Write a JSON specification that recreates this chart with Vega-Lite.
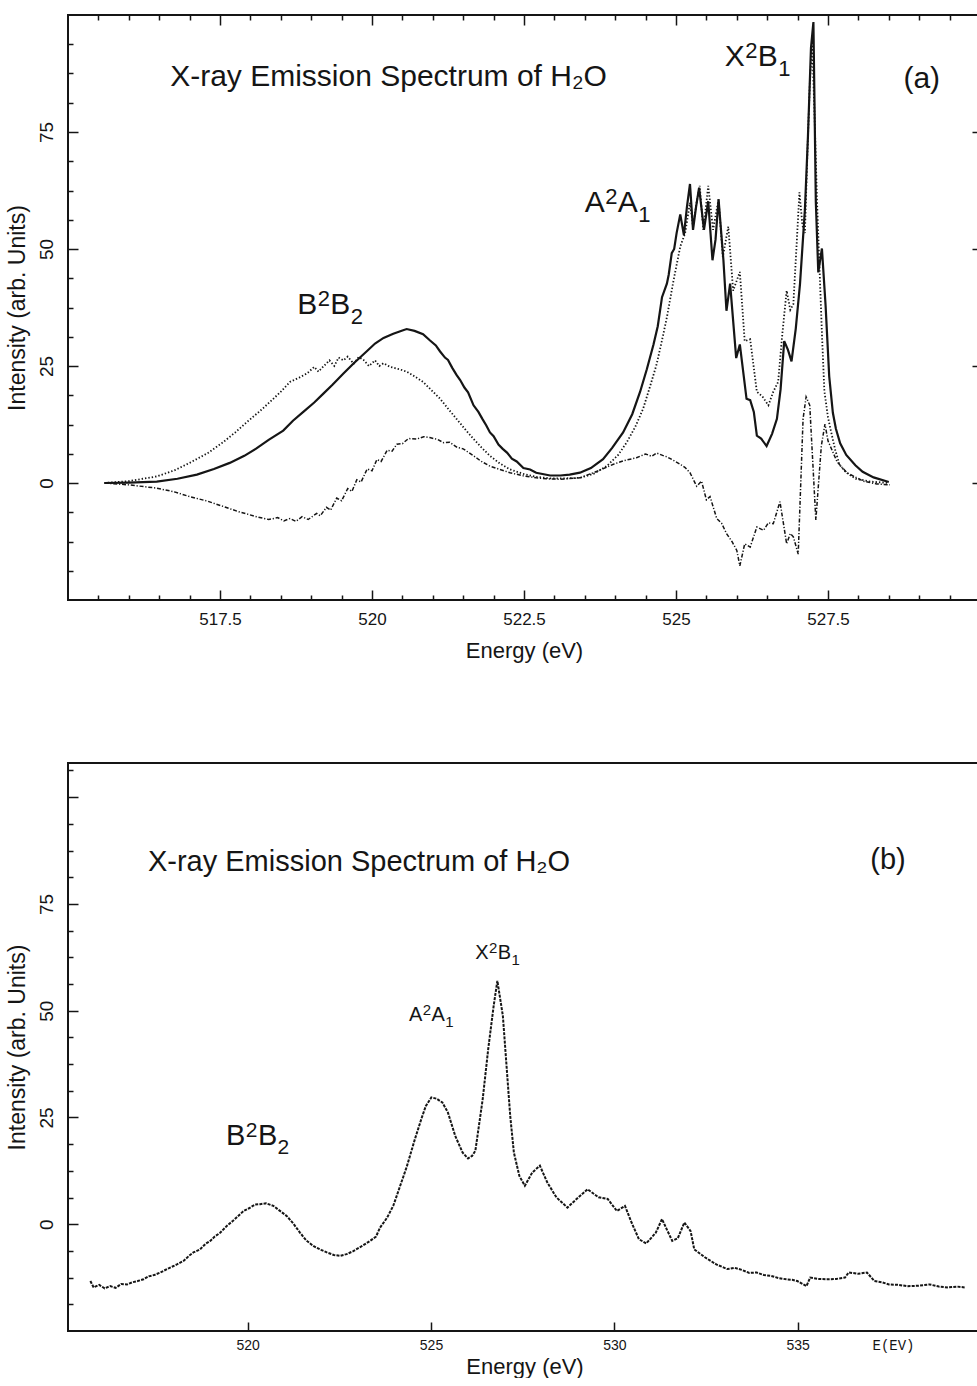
{
  "$schema": "https://vega.github.io/schema/vega-lite/v6.json",
  "background": "white",
  "padding": {"left": 4, "top": 13, "right": 0, "bottom": 0},
  "spacing": 100,
  "config": {
    "view": {"stroke": "#151515", "strokeWidth": 2},
    "axis": {"grid": false, "domain": false, "tickColor": "#151515", "tickWidth": 1.5, "labelColor": "#151515", "titleColor": "#151515", "titleFontWeight": "normal", "labelOverlap": false, "labelFlush": false},
    "line": {"clip": false},
    "text": {"color": "#151515", "font": "Liberation Sans, Arial, sans-serif", "align": "left", "baseline": "alphabetic"}
  },
  "datasets": {
    "a": [
      {"c":"solid","E":515.6,"I":0},{"c":"solid","E":516.0,"I":0.1},{"c":"solid","E":516.46,"I":0.3},{"c":"solid","E":516.8,"I":0.9},{"c":"solid","E":517.12,"I":1.8},{"c":"solid","E":517.4,"I":3.0},{"c":"solid","E":517.66,"I":4.3},{"c":"solid","E":517.9,"I":5.8},{"c":"solid","E":518.1,"I":7.4},{"c":"solid","E":518.3,"I":9.2},{"c":"solid","E":518.54,"I":11.2},{"c":"solid","E":518.7,"I":13.3},{"c":"solid","E":518.87,"I":15.2},{"c":"solid","E":519.05,"I":17.2},{"c":"solid","E":519.2,"I":19.1},{"c":"solid","E":519.35,"I":21.0},{"c":"solid","E":519.53,"I":23.4},{"c":"solid","E":519.7,"I":25.6},{"c":"solid","E":519.91,"I":28.1},{"c":"solid","E":520.05,"I":29.8},{"c":"solid","E":520.19,"I":31.0},{"c":"solid","E":520.35,"I":31.9},{"c":"solid","E":520.5,"I":32.6},{"c":"solid","E":520.57,"I":32.9},{"c":"solid","E":520.7,"I":32.5},{"c":"solid","E":520.84,"I":31.8},{"c":"solid","E":520.95,"I":30.5},{"c":"solid","E":521.05,"I":29.4},{"c":"solid","E":521.12,"I":28.1},{"c":"solid","E":521.2,"I":26.8},{"c":"solid","E":521.25,"I":26.3},{"c":"solid","E":521.32,"I":24.6},{"c":"solid","E":521.39,"I":23.1},{"c":"solid","E":521.45,"I":22.0},{"c":"solid","E":521.52,"I":20.4},{"c":"solid","E":521.58,"I":19.4},{"c":"solid","E":521.67,"I":16.6},{"c":"solid","E":521.75,"I":15.2},{"c":"solid","E":521.82,"I":13.6},{"c":"solid","E":521.88,"I":12.3},{"c":"solid","E":521.94,"I":10.8},{"c":"solid","E":522.0,"I":10.0},{"c":"solid","E":522.08,"I":8.2},{"c":"solid","E":522.15,"I":7.3},{"c":"solid","E":522.22,"I":6.5},{"c":"solid","E":522.3,"I":5.2},{"c":"solid","E":522.38,"I":4.6},{"c":"solid","E":522.49,"I":3.2},{"c":"solid","E":522.6,"I":2.9},{"c":"solid","E":522.7,"I":2.2},{"c":"solid","E":522.93,"I":1.6},{"c":"solid","E":523.1,"I":1.6},{"c":"solid","E":523.25,"I":1.8},{"c":"solid","E":523.42,"I":2.2},{"c":"solid","E":523.6,"I":3.2},{"c":"solid","E":523.8,"I":5.1},{"c":"solid","E":523.95,"I":7.5},{"c":"solid","E":524.13,"I":10.8},{"c":"solid","E":524.28,"I":14.7},{"c":"solid","E":524.41,"I":19.5},{"c":"solid","E":524.52,"I":24.3},{"c":"solid","E":524.63,"I":29.6},{"c":"solid","E":524.7,"I":33.5},{"c":"solid","E":524.77,"I":39.7},{"c":"solid","E":524.85,"I":42.6},{"c":"solid","E":524.88,"I":44.5},{"c":"solid","E":524.93,"I":49.1},{"c":"solid","E":524.97,"I":50.0},{"c":"solid","E":525.01,"I":53.4},{"c":"solid","E":525.07,"I":57.4},{"c":"solid","E":525.13,"I":53.0},{"c":"solid","E":525.18,"I":59.0},{"c":"solid","E":525.23,"I":63.9},{"c":"solid","E":525.28,"I":54.1},{"c":"solid","E":525.33,"I":59.0},{"c":"solid","E":525.38,"I":63.1},{"c":"solid","E":525.46,"I":54.1},{"c":"solid","E":525.53,"I":60.2},{"c":"solid","E":525.6,"I":47.6},{"c":"solid","E":525.65,"I":52.0},{"c":"solid","E":525.7,"I":60.6},{"c":"solid","E":525.78,"I":47.6},{"c":"solid","E":525.83,"I":36.8},{"c":"solid","E":525.89,"I":42.6},{"c":"solid","E":525.99,"I":26.7},{"c":"solid","E":526.05,"I":29.6},{"c":"solid","E":526.16,"I":18.0},{"c":"solid","E":526.22,"I":17.7},{"c":"solid","E":526.28,"I":15.2},{"c":"solid","E":526.33,"I":10.1},{"c":"solid","E":526.4,"I":9.5},{"c":"solid","E":526.49,"I":7.9},{"c":"solid","E":526.58,"I":10.5},{"c":"solid","E":526.66,"I":13.7},{"c":"solid","E":526.72,"I":20.0},{"c":"solid","E":526.78,"I":30.3},{"c":"solid","E":526.84,"I":28.5},{"c":"solid","E":526.9,"I":26.0},{"c":"solid","E":526.97,"I":33.0},{"c":"solid","E":527.04,"I":42.6},{"c":"solid","E":527.12,"I":58.4},{"c":"solid","E":527.17,"I":74.0},{"c":"solid","E":527.22,"I":93.0},{"c":"solid","E":527.26,"I":98.5},{"c":"solid","E":527.3,"I":60.0},{"c":"solid","E":527.34,"I":45.0},{"c":"solid","E":527.4,"I":50.1},{"c":"solid","E":527.46,"I":38.0},{"c":"solid","E":527.52,"I":22.8},{"c":"solid","E":527.58,"I":15.0},{"c":"solid","E":527.63,"I":11.6},{"c":"solid","E":527.7,"I":8.5},{"c":"solid","E":527.8,"I":6.0},{"c":"solid","E":527.95,"I":3.8},{"c":"solid","E":528.07,"I":2.4},{"c":"solid","E":528.25,"I":1.2},{"c":"solid","E":528.5,"I":0.2},
      {"c":"dot","E":515.6,"I":0},{"c":"dot","E":516.0,"I":0.4},{"c":"dot","E":516.46,"I":1.4},{"c":"dot","E":516.75,"I":2.7},{"c":"dot","E":517.0,"I":4.3},{"c":"dot","E":517.3,"I":6.4},{"c":"dot","E":517.55,"I":8.7},{"c":"dot","E":517.75,"I":10.8},{"c":"dot","E":517.94,"I":13.0},{"c":"dot","E":518.15,"I":15.3},{"c":"dot","E":518.32,"I":17.3},{"c":"dot","E":518.5,"I":19.5},{"c":"dot","E":518.65,"I":21.6},{"c":"dot","E":518.8,"I":22.5},{"c":"dot","E":518.93,"I":23.4},{"c":"dot","E":519.05,"I":24.8},{"c":"dot","E":519.12,"I":23.8},{"c":"dot","E":519.2,"I":24.9},{"c":"dot","E":519.3,"I":26.2},{"c":"dot","E":519.38,"I":25.0},{"c":"dot","E":519.45,"I":26.8},{"c":"dot","E":519.53,"I":26.2},{"c":"dot","E":519.6,"I":27.0},{"c":"dot","E":519.7,"I":25.5},{"c":"dot","E":519.78,"I":26.9},{"c":"dot","E":519.86,"I":26.3},{"c":"dot","E":519.95,"I":25.0},{"c":"dot","E":520.05,"I":26.2},{"c":"dot","E":520.12,"I":25.0},{"c":"dot","E":520.19,"I":25.6},{"c":"dot","E":520.3,"I":24.8},{"c":"dot","E":520.45,"I":24.3},{"c":"dot","E":520.57,"I":23.8},{"c":"dot","E":520.7,"I":22.8},{"c":"dot","E":520.84,"I":21.6},{"c":"dot","E":520.98,"I":19.8},{"c":"dot","E":521.12,"I":18.0},{"c":"dot","E":521.25,"I":15.9},{"c":"dot","E":521.39,"I":13.7},{"c":"dot","E":521.53,"I":11.5},{"c":"dot","E":521.67,"I":9.4},{"c":"dot","E":521.8,"I":7.6},{"c":"dot","E":521.94,"I":5.8},{"c":"dot","E":522.1,"I":4.2},{"c":"dot","E":522.27,"I":2.9},{"c":"dot","E":522.5,"I":1.9},{"c":"dot","E":522.7,"I":1.3},{"c":"dot","E":522.93,"I":1.0},{"c":"dot","E":523.2,"I":1.0},{"c":"dot","E":523.42,"I":1.1},{"c":"dot","E":523.65,"I":2.0},{"c":"dot","E":523.86,"I":3.6},{"c":"dot","E":524.05,"I":6.0},{"c":"dot","E":524.19,"I":8.7},{"c":"dot","E":524.33,"I":12.0},{"c":"dot","E":524.46,"I":15.9},{"c":"dot","E":524.57,"I":20.5},{"c":"dot","E":524.68,"I":25.3},{"c":"dot","E":524.77,"I":30.5},{"c":"dot","E":524.85,"I":35.4},{"c":"dot","E":524.96,"I":43.3},{"c":"dot","E":525.07,"I":50.5},{"c":"dot","E":525.15,"I":53.4},{"c":"dot","E":525.23,"I":59.9},{"c":"dot","E":525.28,"I":54.8},{"c":"dot","E":525.34,"I":60.0},{"c":"dot","E":525.39,"I":63.5},{"c":"dot","E":525.45,"I":54.1},{"c":"dot","E":525.53,"I":63.5},{"c":"dot","E":525.61,"I":54.1},{"c":"dot","E":525.7,"I":60.6},{"c":"dot","E":525.77,"I":48.3},{"c":"dot","E":525.86,"I":54.8},{"c":"dot","E":525.94,"I":41.1},{"c":"dot","E":526.05,"I":45.1},{"c":"dot","E":526.13,"I":30.3},{"c":"dot","E":526.22,"I":30.7},{"c":"dot","E":526.33,"I":19.5},{"c":"dot","E":526.42,"I":18.5},{"c":"dot","E":526.52,"I":16.6},{"c":"dot","E":526.6,"I":19.5},{"c":"dot","E":526.68,"I":21.6},{"c":"dot","E":526.75,"I":32.0},{"c":"dot","E":526.82,"I":41.1},{"c":"dot","E":526.88,"I":37.0},{"c":"dot","E":526.93,"I":38.2},{"c":"dot","E":526.98,"I":50.0},{"c":"dot","E":527.03,"I":62.1},{"c":"dot","E":527.08,"I":55.0},{"c":"dot","E":527.12,"I":53.4},{"c":"dot","E":527.16,"I":70.0},{"c":"dot","E":527.2,"I":85.0},{"c":"dot","E":527.24,"I":94.0},{"c":"dot","E":527.28,"I":78.0},{"c":"dot","E":527.32,"I":60.0},{"c":"dot","E":527.36,"I":46.0},{"c":"dot","E":527.4,"I":32.0},{"c":"dot","E":527.44,"I":19.7},{"c":"dot","E":527.5,"I":14.0},{"c":"dot","E":527.55,"I":11.0},{"c":"dot","E":527.62,"I":7.0},{"c":"dot","E":527.69,"I":3.9},{"c":"dot","E":527.8,"I":2.2},{"c":"dot","E":527.96,"I":0.9},{"c":"dot","E":528.2,"I":0.3},{"c":"dot","E":528.5,"I":0},
      {"c":"dd","E":515.6,"I":0},{"c":"dd","E":516.0,"I":-0.4},{"c":"dd","E":516.46,"I":-1.1},{"c":"dd","E":516.75,"I":-1.9},{"c":"dd","E":517.0,"I":-2.9},{"c":"dd","E":517.3,"I":-3.9},{"c":"dd","E":517.55,"I":-5.0},{"c":"dd","E":517.8,"I":-6.1},{"c":"dd","E":518.1,"I":-7.2},{"c":"dd","E":518.3,"I":-7.8},{"c":"dd","E":518.45,"I":-7.4},{"c":"dd","E":518.55,"I":-8.1},{"c":"dd","E":518.65,"I":-7.6},{"c":"dd","E":518.75,"I":-8.2},{"c":"dd","E":518.85,"I":-7.2},{"c":"dd","E":518.95,"I":-7.8},{"c":"dd","E":519.09,"I":-6.5},{"c":"dd","E":519.15,"I":-7.0},{"c":"dd","E":519.25,"I":-5.2},{"c":"dd","E":519.32,"I":-5.8},{"c":"dd","E":519.42,"I":-3.2},{"c":"dd","E":519.5,"I":-3.8},{"c":"dd","E":519.6,"I":-1.2},{"c":"dd","E":519.67,"I":-1.8},{"c":"dd","E":519.75,"I":0.7},{"c":"dd","E":519.82,"I":0.2},{"c":"dd","E":519.92,"I":3.0},{"c":"dd","E":520.0,"I":2.6},{"c":"dd","E":520.08,"I":5.0},{"c":"dd","E":520.15,"I":4.6},{"c":"dd","E":520.25,"I":7.0},{"c":"dd","E":520.33,"I":6.8},{"c":"dd","E":520.41,"I":8.3},{"c":"dd","E":520.5,"I":8.4},{"c":"dd","E":520.6,"I":9.5},{"c":"dd","E":520.74,"I":9.4},{"c":"dd","E":520.85,"I":9.9},{"c":"dd","E":520.95,"I":9.7},{"c":"dd","E":521.08,"I":9.3},{"c":"dd","E":521.18,"I":8.6},{"c":"dd","E":521.28,"I":8.7},{"c":"dd","E":521.4,"I":7.6},{"c":"dd","E":521.5,"I":7.3},{"c":"dd","E":521.67,"I":5.8},{"c":"dd","E":521.8,"I":4.6},{"c":"dd","E":521.94,"I":3.6},{"c":"dd","E":522.1,"I":2.9},{"c":"dd","E":522.27,"I":2.2},{"c":"dd","E":522.5,"I":1.5},{"c":"dd","E":522.7,"I":1.1},{"c":"dd","E":522.87,"I":0.9},{"c":"dd","E":523.1,"I":0.8},{"c":"dd","E":523.42,"I":1.1},{"c":"dd","E":523.7,"I":2.5},{"c":"dd","E":523.97,"I":4.0},{"c":"dd","E":524.15,"I":4.8},{"c":"dd","E":524.35,"I":5.4},{"c":"dd","E":524.5,"I":6.2},{"c":"dd","E":524.6,"I":5.7},{"c":"dd","E":524.68,"I":6.4},{"c":"dd","E":524.78,"I":5.9},{"c":"dd","E":524.85,"I":5.6},{"c":"dd","E":524.95,"I":4.9},{"c":"dd","E":525.07,"I":4.0},{"c":"dd","E":525.15,"I":3.3},{"c":"dd","E":525.23,"I":2.2},{"c":"dd","E":525.34,"I":-0.7},{"c":"dd","E":525.42,"I":0.4},{"c":"dd","E":525.5,"I":-3.6},{"c":"dd","E":525.56,"I":-2.9},{"c":"dd","E":525.67,"I":-7.6},{"c":"dd","E":525.75,"I":-8.6},{"c":"dd","E":525.83,"I":-10.8},{"c":"dd","E":525.92,"I":-12.5},{"c":"dd","E":526.0,"I":-14.4},{"c":"dd","E":526.05,"I":-17.7},{"c":"dd","E":526.13,"I":-13.0},{"c":"dd","E":526.22,"I":-13.7},{"c":"dd","E":526.33,"I":-9.4},{"c":"dd","E":526.44,"I":-10.1},{"c":"dd","E":526.52,"I":-8.5},{"c":"dd","E":526.6,"I":-8.7},{"c":"dd","E":526.71,"I":-4.0},{"c":"dd","E":526.82,"I":-13.0},{"c":"dd","E":526.88,"I":-10.8},{"c":"dd","E":526.93,"I":-11.5},{"c":"dd","E":527.01,"I":-15.2},{"c":"dd","E":527.09,"I":13.7},{"c":"dd","E":527.14,"I":18.4},{"c":"dd","E":527.2,"I":16.6},{"c":"dd","E":527.3,"I":-7.9},{"c":"dd","E":527.39,"I":7.9},{"c":"dd","E":527.45,"I":12.6},{"c":"dd","E":527.5,"I":9.0},{"c":"dd","E":527.56,"I":7.2},{"c":"dd","E":527.65,"I":4.5},{"c":"dd","E":527.81,"I":2.2},{"c":"dd","E":528.08,"I":0.4},{"c":"dd","E":528.3,"I":-0.2},{"c":"dd","E":528.52,"I":-0.4}
    ],
    "b": [
      {"E":515.71,"I":-13.3},{"E":515.8,"I":-14.8},{"E":515.95,"I":-14.2},{"E":516.1,"I":-15.0},{"E":516.25,"I":-14.5},{"E":516.4,"I":-14.9},{"E":516.55,"I":-14.0},{"E":516.71,"I":-14.1},{"E":516.85,"I":-13.6},{"E":517.0,"I":-13.3},{"E":517.16,"I":-12.9},{"E":517.3,"I":-12.2},{"E":517.45,"I":-11.9},{"E":517.62,"I":-11.3},{"E":517.8,"I":-10.5},{"E":517.95,"I":-9.9},{"E":518.07,"I":-9.4},{"E":518.25,"I":-8.6},{"E":518.4,"I":-7.4},{"E":518.52,"I":-6.6},{"E":518.7,"I":-5.9},{"E":518.85,"I":-4.6},{"E":518.98,"I":-3.9},{"E":519.1,"I":-2.9},{"E":519.25,"I":-2.0},{"E":519.43,"I":-0.4},{"E":519.6,"I":0.8},{"E":519.75,"I":2.0},{"E":519.89,"I":3.1},{"E":520.05,"I":3.8},{"E":520.2,"I":4.6},{"E":520.34,"I":4.7},{"E":520.5,"I":4.9},{"E":520.7,"I":4.3},{"E":520.9,"I":3.0},{"E":521.07,"I":1.9},{"E":521.25,"I":0.1},{"E":521.43,"I":-2.0},{"E":521.6,"I":-3.8},{"E":521.79,"I":-5.1},{"E":522.0,"I":-6.0},{"E":522.16,"I":-6.6},{"E":522.35,"I":-7.2},{"E":522.52,"I":-7.4},{"E":522.7,"I":-7.0},{"E":522.88,"I":-6.3},{"E":523.1,"I":-5.2},{"E":523.34,"I":-3.9},{"E":523.5,"I":-2.9},{"E":523.61,"I":-0.8},{"E":523.8,"I":1.5},{"E":523.97,"I":4.3},{"E":524.16,"I":9.0},{"E":524.34,"I":13.5},{"E":524.56,"I":19.9},{"E":524.75,"I":25.0},{"E":524.86,"I":27.7},{"E":525.01,"I":29.7},{"E":525.15,"I":29.4},{"E":525.31,"I":28.5},{"E":525.46,"I":26.2},{"E":525.66,"I":20.7},{"E":525.86,"I":16.8},{"E":526.01,"I":15.4},{"E":526.12,"I":16.0},{"E":526.21,"I":17.2},{"E":526.41,"I":29.3},{"E":526.56,"I":41.0},{"E":526.71,"I":51.2},{"E":526.81,"I":57.0},{"E":526.96,"I":48.8},{"E":527.06,"I":37.1},{"E":527.16,"I":25.4},{"E":527.26,"I":16.8},{"E":527.41,"I":11.3},{"E":527.56,"I":9.0},{"E":527.76,"I":12.1},{"E":527.97,"I":13.7},{"E":528.17,"I":9.8},{"E":528.42,"I":6.3},{"E":528.72,"I":3.9},{"E":528.97,"I":5.9},{"E":529.27,"I":8.2},{"E":529.57,"I":6.3},{"E":529.82,"I":5.9},{"E":530.07,"I":3.1},{"E":530.29,"I":4.3},{"E":530.47,"I":0.4},{"E":530.67,"I":-3.5},{"E":530.87,"I":-4.5},{"E":531.13,"I":-2.0},{"E":531.3,"I":1.2},{"E":531.43,"I":-1.2},{"E":531.58,"I":-3.9},{"E":531.73,"I":-3.3},{"E":531.91,"I":0.4},{"E":532.08,"I":-1.6},{"E":532.18,"I":-5.9},{"E":532.48,"I":-7.8},{"E":532.78,"I":-9.4},{"E":533.08,"I":-10.5},{"E":533.28,"I":-10.2},{"E":533.48,"I":-10.7},{"E":533.68,"I":-11.4},{"E":533.88,"I":-11.3},{"E":534.08,"I":-11.9},{"E":534.28,"I":-12.1},{"E":534.48,"I":-12.6},{"E":534.69,"I":-12.9},{"E":534.85,"I":-13.0},{"E":534.99,"I":-13.3},{"E":535.24,"I":-14.5},{"E":535.34,"I":-12.5},{"E":535.55,"I":-12.8},{"E":535.79,"I":-12.9},{"E":536.05,"I":-12.8},{"E":536.29,"I":-12.5},{"E":536.39,"I":-11.3},{"E":536.65,"I":-11.6},{"E":536.89,"I":-11.3},{"E":537.09,"I":-13.3},{"E":537.3,"I":-13.6},{"E":537.49,"I":-14.1},{"E":537.75,"I":-14.2},{"E":537.99,"I":-14.5},{"E":538.3,"I":-14.4},{"E":538.6,"I":-14.1},{"E":538.85,"I":-14.6},{"E":539.1,"I":-14.8},{"E":539.35,"I":-14.6},{"E":539.56,"I":-14.8}
    ],
    "ta": [
      {"k":"title","t":"X-ray Emission Spectrum of  H₂O","E":516.68,"I":84.8},
      {"k":"tag","t":"(a)","E":528.74,"I":84.5}
    ],
    "sa": [
      {"L1":"X","S":"2","L2":"B","D":"1","E":525.8,"I":89.1},
      {"L1":"A","S":"2","L2":"A","D":"1","E":523.5,"I":57.8},
      {"L1":"B","S":"2","L2":"B","D":"2","E":518.77,"I":36.1}
    ],
    "tb": [
      {"k":"title","t":"X-ray Emission Spectrum of  H₂O","E":517.28,"I":82.7},
      {"k":"tag","t":"(b)","E":536.98,"I":83.2}
    ],
    "sbBig": [
      {"L1":"B","S":"2","L2":"B","D":"2","E":519.41,"I":18.6}
    ],
    "sbSmall": [
      {"L1":"A","S":"2","L2":"A","D":"1","E":524.4,"I":47.6},
      {"L1":"X","S":"2","L2":"B","D":"1","E":526.21,"I":62.1}
    ]
  },
  "vconcat": [
    {
      "width": 912,
      "height": 585,
      "layer": [
        {
          "data": {"name": "a"},
          "transform": [{"filter": "datum.c === 'solid'"}],
          "mark": {"type": "line", "color": "#151515", "strokeWidth": 2.2},
          "encoding": {
            "x": {"field": "E", "type": "quantitative", "scale": {"domain": [515, 530], "nice": false, "zero": false},
              "axis": {"orient": "bottom", "title": "Energy (eV)",
                "values": [515.5,516,516.5,517,517.5,518,518.5,519,519.5,520,520.5,521,521.5,522,522.5,523,523.5,524,524.5,525,525.5,526,526.5,527,527.5,528,528.5,529,529.5],
                "tickSize": {"condition": {"test": "datum.value % 2.5 === 0", "value": -10}, "value": -5},
                "labelExpr": "datum.value % 2.5 === 0 ? format(datum.value, '~g') : ''",
                "labelPadding": 21, "labelFont": "Liberation Sans, Arial, sans-serif", "labelFontSize": 17,
                "titleFont": "Liberation Sans, Arial, sans-serif", "titleFontSize": 22, "titlePadding": 8}},
            "y": {"field": "I", "type": "quantitative", "scale": {"domain": [-25, 100], "nice": false, "zero": false},
              "axis": {"orient": "left", "title": "Intensity (arb. Units)",
                "values": [-18.75,-12.5,-6.25,0,6.25,12.5,18.75,25,31.25,37.5,43.75,50,56.25,62.5,68.75,75,81.25,87.5,93.75],
                "tickSize": {"condition": {"test": "datum.value % 25 === 0", "value": -10}, "value": -5},
                "labelExpr": "datum.value % 25 === 0 ? format(datum.value, 'd') : ''",
                "labelAngle": 270, "labelAlign": "center", "labelBaseline": "bottom",
                "labelPadding": 22, "labelFont": "Liberation Sans, Arial, sans-serif", "labelFontSize": 19,
                "titleFont": "Liberation Sans, Arial, sans-serif", "titleFontSize": 23, "titlePadding": 3}}
          }
        },
        {
          "data": {"name": "a"},
          "transform": [{"filter": "datum.c === 'dot'"}],
          "mark": {"type": "line", "color": "#151515", "strokeWidth": 1.8, "strokeDash": [1.4, 2]},
          "encoding": {
            "x": {"field": "E", "type": "quantitative",
              "axis": {"orient": "top", "title": null, "labels": false,
                "values": [515.5,516,516.5,517,517.5,518,518.5,519,519.5,520,520.5,521,521.5,522,522.5,523,523.5,524,524.5,525,525.5,526,526.5,527,527.5,528,528.5,529,529.5],
                "tickSize": {"condition": {"test": "datum.value % 2.5 === 0", "value": -10}, "value": -5}}},
            "y": {"field": "I", "type": "quantitative",
              "axis": {"orient": "right", "title": null, "labels": false,
                "values": [0, 25, 50, 75],
                "tickSize": -8}}
          }
        },
        {
          "data": {"name": "a"},
          "transform": [{"filter": "datum.c === 'dd'"}],
          "mark": {"type": "line", "color": "#151515", "strokeWidth": 1.5, "strokeDash": [4, 1.8, 1.2, 1.8]},
          "encoding": {
            "x": {"field": "E", "type": "quantitative", "axis": null},
            "y": {"field": "I", "type": "quantitative", "axis": null}
          }
        },
        {
          "data": {"name": "ta"},
          "mark": {"type": "text", "fontSize": 30},
          "encoding": {
            "x": {"field": "E", "type": "quantitative", "axis": null},
            "y": {"field": "I", "type": "quantitative", "axis": null},
            "text": {"field": "t"}
          }
        },
        {
          "data": {"name": "sa"},
          "mark": {"type": "text", "fontSize": 30},
          "encoding": {"x": {"field": "E", "type": "quantitative", "axis": null}, "y": {"field": "I", "type": "quantitative", "axis": null}, "text": {"field": "L1"}}
        },
        {
          "data": {"name": "sa"},
          "mark": {"type": "text", "fontSize": 22, "dx": 20.5, "dy": -8},
          "encoding": {"x": {"field": "E", "type": "quantitative", "axis": null}, "y": {"field": "I", "type": "quantitative", "axis": null}, "text": {"field": "S"}}
        },
        {
          "data": {"name": "sa"},
          "mark": {"type": "text", "fontSize": 30, "dx": 33},
          "encoding": {"x": {"field": "E", "type": "quantitative", "axis": null}, "y": {"field": "I", "type": "quantitative", "axis": null}, "text": {"field": "L2"}}
        },
        {
          "data": {"name": "sa"},
          "mark": {"type": "text", "fontSize": 22, "dx": 53.5, "dy": 10},
          "encoding": {"x": {"field": "E", "type": "quantitative", "axis": null}, "y": {"field": "I", "type": "quantitative", "axis": null}, "text": {"field": "D"}}
        }
      ]
    },
    {
      "width": 913,
      "height": 568,
      "layer": [
        {
          "data": {"name": "b"},
          "mark": {"type": "line", "color": "#151515", "strokeWidth": 2, "strokeDash": [3, 1.2]},
          "encoding": {
            "x": {"field": "E", "type": "quantitative", "scale": {"domain": [515.1, 540], "nice": false, "zero": false},
              "axis": {"orient": "bottom", "title": "Energy (eV)",
                "values": [520, 525, 530, 535, 537.6],
                "tickSize": -9,
                "tickOpacity": {"condition": {"test": "datum.value === 537.6", "value": 0}, "value": 1},
                "labelExpr": "datum.value === 537.6 ? 'E(EV)' : format(datum.value, 'd')",
                "labelFont": {"condition": {"test": "datum.value === 537.6", "value": "Liberation Mono, DejaVu Sans Mono, monospace"}, "value": "Liberation Sans, Arial, sans-serif"},
                "labelPadding": 16, "labelFontSize": 14,
                "titleFont": "Liberation Sans, Arial, sans-serif", "titleFontSize": 22, "titlePadding": 4}},
            "y": {"field": "I", "type": "quantitative", "scale": {"domain": [-25, 108], "nice": false, "zero": false},
              "axis": {"orient": "left", "title": "Intensity (arb. Units)",
                "values": [-18.75,-12.5,-6.25,0,6.25,12.5,18.75,25,31.25,37.5,43.75,50,56.25,62.5,68.75,75,81.25,87.5,93.75,100,106.25],
                "tickSize": {"condition": {"test": "datum.value % 25 === 0", "value": -10}, "value": -5},
                "labelExpr": "datum.value % 25 === 0 && datum.value < 100 ? format(datum.value, 'd') : ''",
                "labelAngle": 270, "labelAlign": "center", "labelBaseline": "bottom",
                "labelPadding": 22, "labelFont": "Liberation Sans, Arial, sans-serif", "labelFontSize": 19,
                "titleFont": "Liberation Sans, Arial, sans-serif", "titleFontSize": 23, "titlePadding": 3}}
          }
        },
        {
          "data": {"name": "tb"},
          "mark": {"type": "text", "fontSize": 29},
          "encoding": {
            "x": {"field": "E", "type": "quantitative",
              "axis": {"orient": "top", "title": null, "labels": false, "ticks": false, "domain": false}},
            "y": {"field": "I", "type": "quantitative",
              "axis": {"orient": "right", "title": null, "labels": false, "ticks": false, "domain": false}},
            "text": {"field": "t"}
          }
        },
        {
          "data": {"name": "sbBig"},
          "mark": {"type": "text", "fontSize": 29},
          "encoding": {"x": {"field": "E", "type": "quantitative", "axis": null}, "y": {"field": "I", "type": "quantitative", "axis": null}, "text": {"field": "L1"}}
        },
        {
          "data": {"name": "sbBig"},
          "mark": {"type": "text", "fontSize": 21, "dx": 19.8, "dy": -8},
          "encoding": {"x": {"field": "E", "type": "quantitative", "axis": null}, "y": {"field": "I", "type": "quantitative", "axis": null}, "text": {"field": "S"}}
        },
        {
          "data": {"name": "sbBig"},
          "mark": {"type": "text", "fontSize": 29, "dx": 32},
          "encoding": {"x": {"field": "E", "type": "quantitative", "axis": null}, "y": {"field": "I", "type": "quantitative", "axis": null}, "text": {"field": "L2"}}
        },
        {
          "data": {"name": "sbBig"},
          "mark": {"type": "text", "fontSize": 21, "dx": 51.5, "dy": 9},
          "encoding": {"x": {"field": "E", "type": "quantitative", "axis": null}, "y": {"field": "I", "type": "quantitative", "axis": null}, "text": {"field": "D"}}
        },
        {
          "data": {"name": "sbSmall"},
          "mark": {"type": "text", "fontSize": 20},
          "encoding": {"x": {"field": "E", "type": "quantitative", "axis": null}, "y": {"field": "I", "type": "quantitative", "axis": null}, "text": {"field": "L1"}}
        },
        {
          "data": {"name": "sbSmall"},
          "mark": {"type": "text", "fontSize": 15, "dx": 13.7, "dy": -6},
          "encoding": {"x": {"field": "E", "type": "quantitative", "axis": null}, "y": {"field": "I", "type": "quantitative", "axis": null}, "text": {"field": "S"}}
        },
        {
          "data": {"name": "sbSmall"},
          "mark": {"type": "text", "fontSize": 20, "dx": 22.5},
          "encoding": {"x": {"field": "E", "type": "quantitative", "axis": null}, "y": {"field": "I", "type": "quantitative", "axis": null}, "text": {"field": "L2"}}
        },
        {
          "data": {"name": "sbSmall"},
          "mark": {"type": "text", "fontSize": 15, "dx": 36.2, "dy": 6},
          "encoding": {"x": {"field": "E", "type": "quantitative", "axis": null}, "y": {"field": "I", "type": "quantitative", "axis": null}, "text": {"field": "D"}}
        }
      ]
    }
  ]
}
